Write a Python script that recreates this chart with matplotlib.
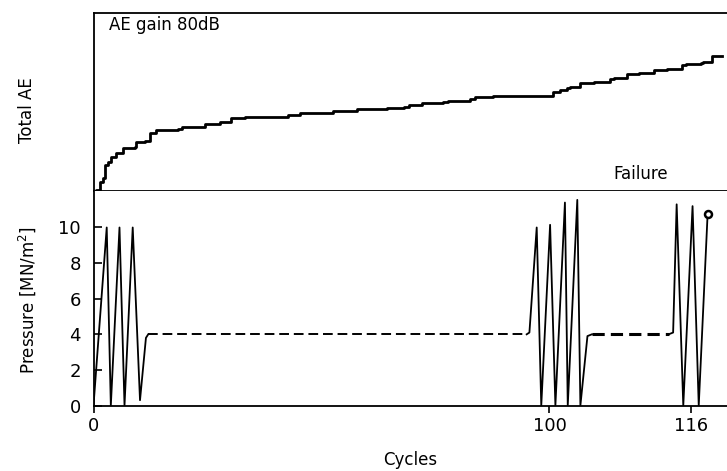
import numpy as np
import matplotlib.pyplot as plt

# cumulative acoustic emission (arbitrary counts) against cycle number
ae_cycles = [0.0, 0.6, 1.4, 2.1, 2.5, 3.2, 3.9, 5.0, 6.5, 9.0, 9.4, 11.2, 12.3, 13.8,
             18.5, 19.3, 24.4, 27.7, 30.2, 33.2, 42.7, 45.3, 52.6, 57.7, 64.3, 68.0,
             69.1, 72.0, 76.7, 77.8, 82.6, 83.7, 87.7, 100.4, 101.2, 101.95, 102.3,
             103.5, 105.0, 106.9, 107.3, 108.8, 110.1, 111.8, 113.3, 115.0, 115.5,
             117.1, 117.4, 118.4, 118.6, 119.5]
ae_total = [0, 1, 9, 13, 26, 29, 34, 38, 43, 44, 49, 50, 58, 61,
            62, 64, 67, 69, 73, 74, 76, 78, 80, 82, 83, 84,
            86, 88, 89, 90, 92, 94, 95, 99, 101, 103, 104,
            108, 109, 112, 113, 117, 118, 121, 122, 126, 127,
            128, 129, 135, 135, 135]

# pressure history: proof cycles (solid) and hold periods at 4 MN/m2 (dashed)
p1_cycles = [0.0, 2.9, 3.8, 5.7, 6.8, 8.6, 10.2, 11.5, 12.0]
p1_press = [0.0, 10.0, 0.0, 10.0, 0.0, 10.0, 0.3, 3.8, 4.0]
hold1_cycles = [12.0, 95.0]
hold1_press = [4.0, 4.0]
p2_cycles = [95.0, 95.6, 97.2, 98.2, 100.07, 100.67, 101.75, 102.07, 103.15, 103.5, 104.3, 104.8]
p2_press = [4.0, 4.1, 10.0, 0.0, 10.15, 0.0, 11.4, 0.0, 11.55, 0.0, 3.9, 4.0]
hold2_cycles = [104.8, 113.5]
hold2_press = [4.0, 4.0]
p3_cycles = [113.5, 114.0, 114.4, 115.15, 116.2, 116.9, 117.9]
p3_press = [4.0, 4.1, 11.3, 0.0, 11.2, 0.0, 10.7]
failure_cycle = 117.9
failure_press = 10.75

x_ticks = [0, 100, 116]
y_ticks = [0, 2, 4, 6, 8, 10]

# cycles past 100 are drawn on a stretched scale
late_stretch = 1.937


def fwd(x):
    x = np.asarray(x, dtype=float)
    return np.where(x <= 100, x, 100 + (x - 100) * late_stretch)


def inv(x):
    x = np.asarray(x, dtype=float)
    return np.where(x <= 100, x, 100 + (x - 100) / late_stretch)


plt.rcParams['font.family'] = ['Liberation Sans Narrow', 'DejaVu Sans']

fig = plt.figure(figsize=(7.27, 4.71), dpi=100)
left = 93.5 / 727
ax_top = fig.add_axes([left, 0.5945, 1.0 - left, 0.378])
ax_bot = fig.add_axes([left, 0.139, 1.0 - left, 0.4555])

for ax in (ax_top, ax_bot):
    ax.set_xscale('function', functions=(fwd, inv))
    ax.set_xlim(0, 120.1)
    ax.spines['right'].set_visible(False)
    for s in ('left', 'top', 'bottom'):
        ax.spines[s].set_linewidth(1.3)

# top panel: total AE
ax_top.plot(ae_cycles, ae_total, drawstyle='steps-post', color='black', lw=2.0)
ax_top.set_ylim(0, 178)
ax_top.set_xticks([])
ax_top.set_yticks([])
ax_top.text(0.024, 0.93, 'AE gain 80dB', transform=ax_top.transAxes,
            fontsize=12, va='center', ha='left')
ax_top.text(0.82, 0.095, 'Failure', transform=ax_top.transAxes,
            fontsize=12, va='center', ha='left')

# bottom panel: pressure
ax_bot.spines['top'].set_visible(False)
for xs, ps in ((p1_cycles, p1_press), (p2_cycles, p2_press), (p3_cycles, p3_press)):
    ax_bot.plot(xs, ps, color='black', lw=1.3)
ax_bot.plot(hold1_cycles, hold1_press, color='black', lw=1.4, linestyle=(0, (5, 2.5)))
ax_bot.plot(hold2_cycles, hold2_press, color='black', lw=2.2, linestyle=(0, (4, 2)))
ax_bot.plot([failure_cycle], [failure_press], marker='o', ms=5, mfc='white',
            mec='black', mew=1.8, linestyle='none')
ax_bot.set_ylim(0, 12.05)
ax_bot.set_yticks(y_ticks)
ax_bot.set_xticks(x_ticks)
ax_bot.set_xticklabels([str(t) for t in x_ticks])
ax_bot.minorticks_off()
ax_bot.tick_params(axis='y', direction='in', length=6, width=1.2, pad=9, labelsize=13)
ax_bot.tick_params(axis='x', direction='out', length=5, width=1.2, pad=3, labelsize=13)
ax_bot.set_xlabel('Cycles', fontsize=12, labelpad=12)

fig.text(0.037, 0.766, 'Total AE', rotation=90, fontsize=12, ha='center', va='center')
fig.text(0.037, 0.363, 'Pressure [MN/m$^2$]', rotation=90, fontsize=12,
         ha='center', va='center')

fig.savefig('out.png', dpi=100)
